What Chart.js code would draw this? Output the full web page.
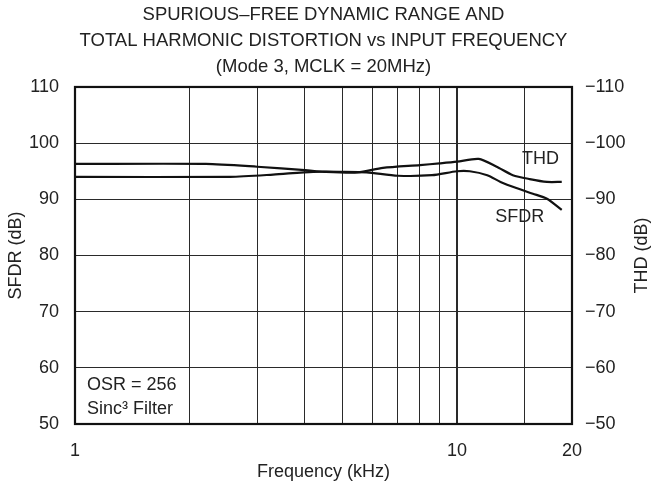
<!DOCTYPE html>
<html>
<head>
<meta charset="utf-8">
<script src="https://cdn.jsdelivr.net/npm/chart.js@4.4.0/dist/chart.umd.min.js"></script>
<style>
  html, body { margin: 0; padding: 0; background: #fff; }
  #wrap { width: 654px; height: 488px; }
</style>
</head>
<body>
<div id="wrap"><canvas id="c" width="654" height="488"></canvas></div>
<script>
// --- data ---
const titleLines = [
  "SPURIOUS–FREE DYNAMIC RANGE AND",
  "TOTAL HARMONIC DISTORTION vs INPUT FREQUENCY",
  "(Mode 3, MCLK = 20MHz)"
];
const xLabeled = [1, 10, 20];

const thdFreq = [1, 2.2, 3, 4, 4.5, 5.5, 6.4, 8, 9, 10, 11.4, 12.7, 14, 15.5, 17.2, 18.8];
const thdDb   = [-96.3, -96.3, -95.8, -95.2, -94.9, -94.8, -95.6, -96.1, -96.4, -96.7, -97.2, -95.8, -94.3, -93.6, -93.1, -93.1];

const sfdrFreq = [1, 2.55, 3.3, 4.2, 5, 5.8, 7, 8.6, 10, 10.8, 12, 13, 14.3, 15.8, 17.2, 18.8];
const sfdrDb   = [94.0, 94.0, 94.4, 94.9, 94.9, 94.8, 94.2, 94.3, 95.0, 95.0, 94.3, 93.1, 92.0, 91.0, 90.1, 88.1];

const FONT = "'Liberation Sans', Arial, Helvetica, sans-serif";
const INK = "#222";
const FS = 18;

function pts(xs, ys) { return xs.map((x, i) => ({ x: x, y: ys[i] })); }

// frame, right axis title (reads bottom-up), box notes and curve labels
const extras = {
  id: "extras",
  afterDraw(chart) {
    const { ctx, chartArea: a, scales } = chart;
    ctx.save();
    ctx.strokeStyle = "#111";
    ctx.lineWidth = 2.2;
    ctx.strokeRect(a.left, a.top, a.right - a.left, a.bottom - a.top);

    ctx.fillStyle = INK;
    ctx.font = FS + "px " + FONT;
    ctx.textBaseline = "middle";
    ctx.textAlign = "left";
    ctx.fillText("OSR = 256", a.left + 12, a.bottom - 39);
    ctx.fillText("Sinc³ Filter", a.left + 12, a.bottom - 15);

    ctx.fillText("THD", scales.x.getPixelForValue(14.8), scales.y.getPixelForValue(97.2));
    ctx.fillText("SFDR", scales.x.getPixelForValue(12.6), scales.y.getPixelForValue(86.9));

    ctx.translate(642, (a.top + a.bottom) / 2);
    ctx.rotate(-Math.PI / 2);
    ctx.textAlign = "center";
    ctx.fillText("THD (dB)", 0, 0);
    ctx.restore();
  }
};

new Chart(document.getElementById("c"), {
  type: "line",
  data: {
    datasets: [
      { label: "THD", data: pts(thdFreq, thdDb), yAxisID: "y2",
        borderColor: "#111", borderWidth: 2.2, pointRadius: 0, tension: 0.25, fill: false },
      { label: "SFDR", data: pts(sfdrFreq, sfdrDb), yAxisID: "y",
        borderColor: "#111", borderWidth: 2.2, pointRadius: 0, tension: 0.25, fill: false }
    ]
  },
  options: {
    responsive: false,
    animation: false,
    layout: { padding: 0 },
    plugins: {
      legend: { display: false },
      tooltip: { enabled: false },
      title: {
        display: true,
        fullSize: false,
        text: titleLines,
        color: INK,
        font: { family: FONT, size: 18.5, weight: "normal", lineHeight: 1.405 },
        padding: { top: 2, bottom: 7 }
      }
    },
    scales: {
      x: {
        type: "logarithmic",
        min: 1, max: 20,
        afterFit: s => { s.height = 64; },
        grid: {
          drawTicks: false,
          color: "#2a2a2a",
          lineWidth: c => (c.tick && c.tick.value === 10 ? 2 : 1)
        },
        border: { display: false },
        ticks: {
          autoSkip: false, maxRotation: 0, padding: 16,
          color: INK, font: { family: FONT, size: FS },
          callback: v => (xLabeled.includes(v) ? String(v) : "")
        },
        title: {
          display: true, text: "Frequency (kHz)", color: INK,
          font: { family: FONT, size: FS }, padding: { top: 0, bottom: 5 }
        }
      },
      y: {
        position: "left",
        min: 50, max: 110,
        afterFit: s => { s.width = 75; },
        grid: { drawTicks: false, color: "#2a2a2a", lineWidth: 1 },
        border: { display: false },
        ticks: { stepSize: 10, padding: 16, color: INK, font: { family: FONT, size: FS } },
        title: {
          display: true, text: "SFDR (dB)", color: INK,
          font: { family: FONT, size: FS }, padding: { top: 5, bottom: 0 }
        }
      },
      y2: {
        position: "right",
        min: -110, max: -50,
        reverse: true,
        afterFit: s => { s.width = 82; },
        grid: { display: false, drawTicks: false },
        border: { display: false },
        ticks: {
          stepSize: 10, padding: 13, color: INK, font: { family: FONT, size: FS },
          callback: v => "−" + Math.abs(v)
        },
        title: { display: false }
      }
    }
  },
  plugins: [extras]
});
</script>
</body>
</html>
